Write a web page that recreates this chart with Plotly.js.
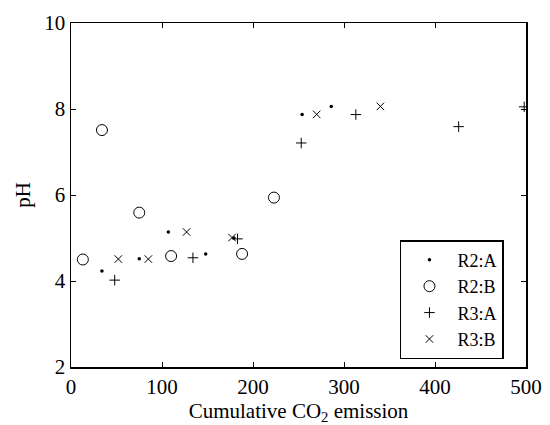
<!DOCTYPE html>
<html>
<head>
<meta charset="utf-8">
<script src="https://cdn.plot.ly/plotly-3.0.1.min.js"></script>
<style>html,body{margin:0;padding:0;background:#fff;}#chart{width:550px;height:425px;}</style>
</head>
<body>
<div id="chart"></div>
<script>
// R2:A (dots)
const r2aX = [34, 75, 107, 148, 179, 254, 286];
const r2aY = [4.23, 4.52, 5.14, 4.63, 5.00, 7.87, 8.06];
// R2:B (open circles)
const r2bX = [13, 34, 75, 110, 188, 223];
const r2bY = [4.50, 7.51, 5.59, 4.58, 4.63, 5.94];
// R3:A (plus)
const r3aX = [48, 134, 183, 253, 313, 426, 498];
const r3aY = [4.02, 4.54, 4.98, 7.21, 7.87, 7.59, 8.05];
// R3:B (x)
const r3bX = [52, 85, 127, 177, 270, 340];
const r3bY = [4.51, 4.51, 5.14, 5.01, 7.875, 8.06];

const names = ["R2:A", "R2:B", "R3:A", "R3:B"];
const xTicks = [0, 100, 200, 300, 400, 500];
const yTicks = [2, 4, 6, 8, 10];

const fam = "Liberation Serif, Times New Roman, serif";
const font = {family: fam, size: 21, color: "#000"};
const legFont = {family: fam, size: 18, color: "#000"};

const traces = [
  {x: r2aX, y: r2aY, name: names[0], mode: "markers", type: "scatter",
   marker: {symbol: "circle", size: 3.5, color: "#000"}},
  {x: r2bX, y: r2bY, name: names[1], mode: "markers", type: "scatter",
   marker: {symbol: "circle-open", size: 11, color: "#000", line: {width: 1, color: "#000"}}},
  {x: r3aX, y: r3aY, name: names[2], mode: "markers", type: "scatter",
   marker: {symbol: "cross-thin-open", size: 7.5, color: "#000", line: {width: 1, color: "#000"}}},
  {x: r3bX, y: r3bY, name: names[3], mode: "markers", type: "scatter",
   marker: {symbol: "x-thin-open", size: 7.5, color: "#000", line: {width: 1, color: "#000"}}}
];

const layout = {
  width: 550, height: 425,
  margin: {l: 71, r: 24, t: 23, b: 58},
  paper_bgcolor: "#fff", plot_bgcolor: "#fff",
  font: font,
  showlegend: true,
  legend: {
    x: 0.723, y: 0.023, xanchor: "left", yanchor: "bottom",
    bgcolor: "#fff", bordercolor: "#000", borderwidth: 1.5,
    font: legFont, itemwidth: 46, tracegroupgap: 0
  },
  xaxis: {
    range: [0, 500], tickvals: xTicks,
    ticks: "inside", ticklen: 5, tickcolor: "#000", tickwidth: 1,
    showline: true, linecolor: "#000", linewidth: 1.5, mirror: "ticks",
    showgrid: false, zeroline: false, tickfont: font, automargin: false,
    title: {text: "Cumulative CO<sub>2</sub> emission", font: font, standoff: 2}
  },
  yaxis: {
    range: [2, 10], tickvals: yTicks,
    ticks: "inside", ticklen: 5, tickcolor: "#000", tickwidth: 1,
    showline: true, linecolor: "#000", linewidth: 1.5, mirror: "ticks",
    showgrid: false, zeroline: false, tickfont: font, automargin: false,
    title: {text: "pH", font: font, standoff: 8}
  }
};

Plotly.newPlot("chart", traces, layout, {displayModeBar: false, staticPlot: true});
</script>
</body>
</html>
